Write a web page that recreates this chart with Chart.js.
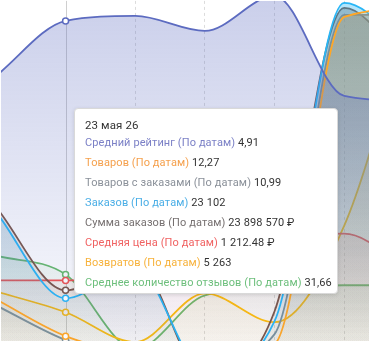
<!DOCTYPE html>
<html lang="ru">
<head>
  <meta charset="UTF-8">
  <title>Статистика по датам</title>
  <style>
    body {
      margin: 0;
      background: #fff;
      font-family: 'Roboto', 'Noto Sans', sans-serif;
    }
    .wrap {
      position: relative;
      width: 370px;
      height: 342px;
      overflow: hidden;
    }
    .tip {
      position: absolute;
      background: #fff;
      border: 1px solid #d9d9d9;
      border-radius: 4px;
      box-shadow: 0 1px 4px rgba(0, 0, 0, 0.12);
      padding: 8px 10px 2px 10px;
      box-sizing: border-box;
      font-size: 11px;
      letter-spacing: 0.1px;
      color: #333;
      white-space: nowrap;
      pointer-events: none;
    }
    .tip .title { line-height: 16px; font-size: 11.5px; }
    .tip .row { line-height: 20px; }
  </style>
  <script src="https://cdn.jsdelivr.net/npm/chart.js"></script>
</head>
<body>
  <div class="wrap" id="wrap">
    <canvas id="chart"></canvas>
  </div>

  <script>
    // dates on the x axis (the view is cropped, hovered day is index 2)
    const dates = ['21 мая 26', '22 мая 26', '23 мая 26', '24 мая 26', '25 мая 26', '26 мая 26', '27 мая 26', '28 мая 26'];
    const hoverIndex = 2;

    const seriesNames = [
      'Средний рейтинг (По датам)',
      'Товаров (По датам)',
      'Товаров с заказами (По датам)',
      'Заказов (По датам)',
      'Сумма заказов (По датам)',
      'Средняя цена (По датам)',
      'Возвратов (По датам)',
      'Среднее количество отзывов (По датам)'
    ];

    const rating      = [4.79, 4.80, 4.91, 4.92, 4.89, 4.96, 4.76, 4.75];
    const products    = [15.9, 14.27, 12.27, 11.30, 11.03, 11.84, 29.63, 30.07];
    const withOrders  = [12.83, 12.39, 10.99, 10.15, 10.03, 11.23, 24.07, 24.07];
    const orders      = [27360, 29378, 23102, 25340, 17838, 21444, 44526, 40703];
    const ordersSum   = [28178000, 30318000, 23898570, 26115000, 17248000, 22293000, 45605000, 40408000];
    const avgPrice    = [1212.5, 1212.5, 1212.48, 1216.2, 1236.4, 1288.1, 1299.1, 1223.5];
    const returns     = [5535, 5453, 5263, 4991, 5435, 5172, 6052, 8100];
    const avgReviews  = [32.28, 32.13, 31.66, 29.80, 31.14, 31.31, 31.39, 31.39];

    // each series has its own hidden y axis
    const axisMin = [4.27, 12.0, 10.95, 20000, 20000000, 1100, 5000, 30];
    const axisMax = [4.95, 30.5, 24.63, 44670, 46140000, 1730.6, 8100, 38.47];

    const colors = ['#5c6bc0', '#ffa726', '#78909c', '#29b6f6', '#795548', '#ef5350', '#ffc107', '#66bb6a'];
    const labelColors = ['#7b80c6', '#f5a04c', '#8a9099', '#4aaee6', '#767070', '#f06262', '#f7b23b', '#6dbf7c'];
    const fillAlpha = [0.32, 0.15, 0.4, 0.36, 0.4, 0.25, 0.18, 0.28];

    const allSeries = [rating, products, withOrders, orders, ordersSum, avgPrice, returns, avgReviews];

    const spaced = (s) => s.replace(/\B(?=(\d{3})+(?!\d))/g, ' ');
    const formatters = [
      v => v.toFixed(2).replace('.', ','),
      v => v.toFixed(2).replace('.', ','),
      v => v.toFixed(2).replace('.', ','),
      v => spaced(String(Math.round(v))),
      v => spaced(String(Math.round(v))) + ' ₽',
      v => { const p = v.toFixed(2).split('.'); return spaced(p[0]) + '.' + p[1] + ' ₽'; },
      v => spaced(String(Math.round(v))),
      v => v.toFixed(2).replace('.', ',')
    ];

    function rgba(hex, a) {
      const n = parseInt(hex.slice(1), 16);
      return `rgba(${(n >> 16) & 255}, ${(n >> 8) & 255}, ${n & 255}, ${a})`;
    }

    function gradientFill(hex, top) {
      return (ctx) => {
        const area = ctx.chart.chartArea;
        if (!area) return rgba(hex, 0.1);
        const g = ctx.chart.ctx.createLinearGradient(0, area.top, 0, area.bottom);
        g.addColorStop(0, rgba(hex, top));
        g.addColorStop(1, rgba(hex, 0.03));
        return g;
      };
    }

    const scales = {
      x: {
        type: 'linear',
        min: 1 + 5 / 70,
        max: 1 + 375 / 70,
        ticks: { display: false, stepSize: 1, includeBounds: false },
        border: { display: false, dash: [3, 3] },
        grid: {
          drawTicks: false,
          color: (ctx) => (ctx.tick && ctx.tick.value === hoverIndex) ? 'rgba(0,0,0,0)' : '#dcdcdc'
        }
      }
    };
    allSeries.forEach((s, i) => {
      scales['y' + i] = { display: false, min: axisMin[i], max: axisMax[i] };
    });

    const datasets = allSeries.map((s, i) => ({
      label: seriesNames[i],
      data: s.map((v, j) => ({ x: j, y: v })),
      yAxisID: 'y' + i,
      borderColor: colors[i],
      borderWidth: 1.8,
      backgroundColor: gradientFill(colors[i], fillAlpha[i]),
      fill: 'start',
      cubicInterpolationMode: 'monotone',
      pointRadius: (ctx) => ctx.dataIndex === hoverIndex ? 3 : 0,
      pointBackgroundColor: '#fff',
      pointBorderColor: colors[i],
      pointBorderWidth: 1.5
    }));

    const hoverLine = {
      id: 'hoverLine',
      beforeDatasetsDraw(chart) {
        const { ctx, chartArea, scales } = chart;
        const x = scales.x.getPixelForValue(hoverIndex);
        ctx.save();
        ctx.strokeStyle = '#cfcfcf';
        ctx.lineWidth = 1;
        ctx.beginPath();
        ctx.moveTo(Math.round(x) + 0.5, chartArea.top);
        ctx.lineTo(Math.round(x) + 0.5, chartArea.bottom);
        ctx.stroke();
        ctx.restore();
      }
    };

    // html tooltip so the label and the value can have different colours
    function externalTooltip(context) {
      const { chart, tooltip } = context;
      let el = document.getElementById('tip');
      if (!el) {
        el = document.createElement('div');
        el.id = 'tip';
        el.className = 'tip';
        document.getElementById('wrap').appendChild(el);
      }
      if (tooltip.opacity === 0 || !tooltip.dataPoints || !tooltip.dataPoints.length) {
        el.style.display = 'none';
        return;
      }
      const idx = tooltip.dataPoints[0].dataIndex;
      let html = `<div class="title">${dates[idx]}</div>`;
      tooltip.dataPoints.forEach(dp => {
        const i = dp.datasetIndex;
        html += `<div class="row"><span style="color:${labelColors[i]}">${seriesNames[i]}</span> ${formatters[i](allSeries[i][idx])}</div>`;
      });
      el.innerHTML = html;
      el.style.display = 'block';
      el.style.left = (tooltip.caretX + 9) + 'px';
      el.style.top = '108px';
      el.style.width = '264px';
      el.style.height = '186px';
    }

    const chart = new Chart(document.getElementById('chart'), {
      type: 'line',
      data: { datasets },
      options: {
        responsive: true,
        maintainAspectRatio: false,
        animation: false,
        events: [],
        layout: { padding: 0 },
        interaction: { mode: 'index', intersect: false },
        scales,
        plugins: {
          legend: { display: false },
          tooltip: { enabled: false, external: externalTooltip }
        }
      },
      plugins: [hoverLine]
    });

    const active = datasets.map((d, i) => ({ datasetIndex: i, index: hoverIndex }));
    chart.tooltip.setActiveElements(active, { x: chart.scales.x.getPixelForValue(hoverIndex), y: 150 });
    chart.update();
  </script>
</body>
</html>
